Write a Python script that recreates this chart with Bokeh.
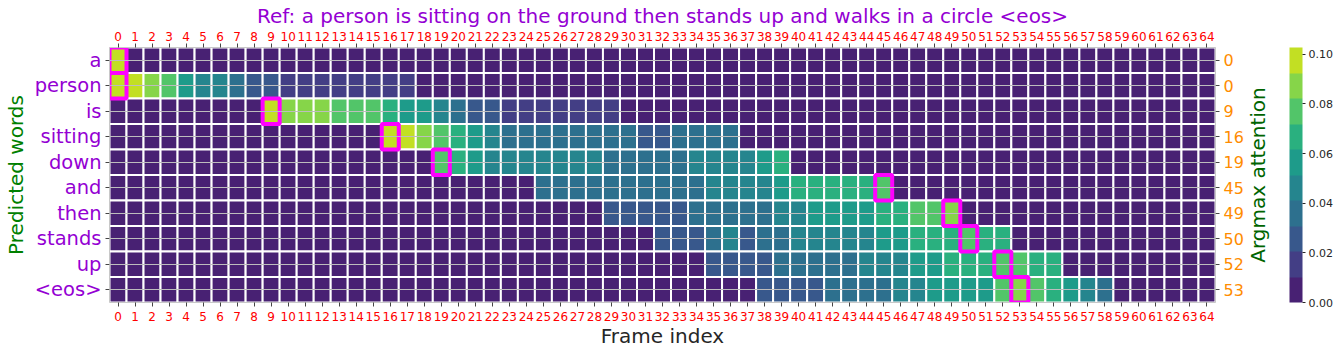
import math
from bokeh.plotting import figure
from bokeh.layouts import row
from bokeh.models import (ColumnDataSource, Range1d, LinearAxis, FixedTicker, Grid,
                          LinearColorMapper, ColorBar, PrintfTickFormatter, Label)
from bokeh.transform import transform
from bokeh.embed import file_html
from bokeh.resources import INLINE

# ---------------- data ----------------
title_text = "Ref: a person is sitting on the ground then stands up and walks in a circle <eos>"
words = ["a", "person", "is", "sitting", "down", "and", "then", "stands", "up", "<eos>"]
frames = list(range(65))
argmax_frames = [0, 0, 9, 16, 19, 45, 49, 50, 52, 53]
colorbar_ticks = [0.00, 0.02, 0.04, 0.06, 0.08, 0.10]
attn_max = 0.1027
# attention (0..9, each bin = attn_max/10)
attention_bins = [
    [9,0,0,0,0,0,0,0,0,0, 0,0,0,0,0,0,0,0,0,0, 0,0,0,0,0,0,0,0,0,0, 0,0,0,0,0,0,0,0,0,0, 0,0,0,0,0,0,0,0,0,0, 0,0,0,0,0,0,0,0,0,0, 0,0,0,0,0],
    [9,9,8,7,5,4,4,3,2,2, 1,1,1,1,1,1,1,1,0,0, 0,0,0,0,0,0,0,0,0,0, 0,0,0,0,0,0,0,0,0,0, 0,0,0,0,0,0,0,0,0,0, 0,0,0,0,0,0,0,0,0,0, 0,0,0,0,0],
    [0,0,0,0,0,0,0,0,0,9, 8,8,8,7,7,7,6,5,5,4, 3,2,2,1,1,1,1,1,1,1, 0,0,0,0,0,0,0,0,0,0, 0,0,0,0,0,0,0,0,0,0, 0,0,0,0,0,0,0,0,0,0, 0,0,0,0,0],
    [0,0,0,0,0,0,0,0,0,0, 0,0,0,0,0,0,9,9,8,7, 6,5,4,3,3,3,3,3,3,3, 3,2,2,3,3,3,3,0,0,0, 0,0,0,0,0,0,0,0,0,0, 0,0,0,0,0,0,0,0,0,0, 0,0,0,0,0],
    [0,0,0,0,0,0,0,0,0,0, 0,0,0,0,0,0,0,0,0,7, 6,5,4,4,4,4,4,4,4,3, 3,3,3,3,4,4,4,4,5,6, 0,0,0,0,0,0,0,0,0,0, 0,0,0,0,0,0,0,0,0,0, 0,0,0,0,0],
    [0,0,0,0,0,0,0,0,0,0, 0,0,0,0,0,0,0,0,0,0, 0,0,0,0,0,3,3,3,3,3, 3,3,3,3,3,4,4,4,4,5, 6,6,6,6,6,7,0,0,0,0, 0,0,0,0,0,0,0,0,0,0, 0,0,0,0,0],
    [0,0,0,0,0,0,0,0,0,0, 0,0,0,0,0,0,0,0,0,0, 0,0,0,0,0,0,0,0,0,2, 2,2,2,2,3,3,3,3,3,4, 4,5,5,5,5,6,6,7,7,8, 0,0,0,0,0,0,0,0,0,0, 0,0,0,0,0],
    [0,0,0,0,0,0,0,0,0,0, 0,0,0,0,0,0,0,0,0,0, 0,0,0,0,0,0,0,0,0,0, 0,0,2,2,2,3,4,2,3,3, 4,4,4,4,4,5,5,6,6,6, 7,6,6,0,0,0,0,0,0,0, 0,0,0,0,0],
    [0,0,0,0,0,0,0,0,0,0, 0,0,0,0,0,0,0,0,0,0, 0,0,0,0,0,0,0,0,0,0, 0,0,0,0,0,2,2,2,2,3, 3,3,3,3,4,4,4,5,5,6, 6,6,7,7,6,6,0,0,0,0, 0,0,0,0,0],
    [0,0,0,0,0,0,0,0,0,0, 0,0,0,0,0,0,0,0,0,0, 0,0,0,0,0,0,0,0,0,0, 0,0,0,0,0,0,0,0,2,2, 2,2,3,3,3,3,4,4,5,5, 5,5,7,8,7,6,5,4,3,0, 0,0,0,0,0],
]
palette = ["#482173", "#433e85", "#38588c", "#2d708e", "#25858e",
           "#1e9b8a", "#2ab07f", "#52c569", "#86d549", "#c2df23"]

# ---------------- build ----------------
xs, ys, vals = [], [], []
for r, row_bins in enumerate(attention_bins):
    for c, b in enumerate(row_bins):
        xs.append(frames[c])
        ys.append(r)
        vals.append((b + 0.5) * attn_max / 10)
cells = ColumnDataSource(dict(x=xs, y=ys, v=vals))
boxes = ColumnDataSource(dict(x=argmax_frames, y=list(range(len(words)))))

mapper = LinearColorMapper(palette=palette, low=0, high=attn_max)

FONT = "DejaVu Sans"
TOP, BOTTOM = 47, 49
p = figure(width=1246, height=351,
           x_range=Range1d(-0.5, 64.5), y_range=Range1d(len(words) - 0.5, -0.5),
           x_axis_location=None, y_axis_location=None,
           toolbar_location=None, output_backend="svg",
           min_border_left=107, min_border_right=28,
           min_border_top=TOP, min_border_bottom=BOTTOM,
           title=title_text)
p.title.align = "center"
p.title.text_color = "#9400d3"
p.title.text_font = FONT
p.title.text_font_size = "20px"
p.title.text_font_style = "normal"
p.title.standoff = 2
p.outline_line_color = None
p.background_fill_color = "white"
p.border_fill_color = "white"
p.grid.visible = False

p.rect(x="x", y="y", width=1, height=1, source=cells,
       fill_color=transform("v", mapper), line_color="white", line_width=2)

p.add_layout(Grid(dimension=1, ticker=FixedTicker(ticks=list(range(len(words)))),
                  grid_line_color="#bdbdbd", grid_line_width=1, level="overlay"))

p.rect(x="x", y="y", width=1, height=1, source=boxes,
       fill_alpha=0, line_color="#ff00ff", line_width=4)


def style(ax, color, size, standoff):
    ax.major_label_text_color = color
    ax.major_label_text_font = FONT
    ax.major_label_text_font_size = size
    ax.major_label_standoff = standoff
    ax.major_tick_out = 4
    ax.major_tick_in = 0
    ax.major_tick_line_color = "#444444"
    ax.minor_tick_line_color = None
    ax.axis_line_color = "#c8c8c8"
    ax.axis_label_text_font = FONT
    ax.axis_label_text_font_style = "normal"
    ax.axis_label_text_font_size = "20px"


xt = FixedTicker(ticks=frames)
yt = FixedTicker(ticks=list(range(len(words))))

bottom = LinearAxis(ticker=xt, axis_label="Frame index")
style(bottom, "red", "12px", 5)
bottom.axis_label_text_color = "#262626"
bottom.axis_label_standoff = 0
p.add_layout(bottom, "below")

top = LinearAxis(ticker=xt)
style(top, "red", "12px", 3)
p.add_layout(top, "above")

left = LinearAxis(ticker=yt, axis_label="Predicted words",
                  major_label_overrides={i: w for i, w in enumerate(words)})
style(left, "#9400d3", "19.5px", 4)
left.axis_label_text_color = "green"
left.axis_label_standoff = 4
p.add_layout(left, "left")

right = LinearAxis(ticker=yt,
                   major_label_overrides={i: str(a) for i, a in enumerate(argmax_frames)})
style(right, "#ff8c00", "16px", 4)
p.add_layout(right, "right")

# side strip: upward-reading "Argmax attention" title and the colour bar
side = figure(width=90, height=351, x_range=Range1d(0, 42), y_range=Range1d(0, 1),
              x_axis_location=None, y_axis_location=None,
              toolbar_location=None, output_backend="svg",
              min_border_left=1, min_border_right=47,
              min_border_top=TOP, min_border_bottom=BOTTOM)
side.outline_line_color = None
side.grid.visible = False
side.add_layout(Label(x=10, y=0.5, text="Argmax attention", angle=math.pi / 2,
                      text_align="center", text_baseline="middle",
                      text_font=FONT, text_font_size="20px", text_color="#006400"))

cb = ColorBar(color_mapper=mapper, ticker=FixedTicker(ticks=colorbar_ticks),
              formatter=PrintfTickFormatter(format="%.2f"),
              width=13, height=351 - TOP - BOTTOM, padding=0, margin=0,
              major_label_text_font=FONT, major_label_text_font_size="11px",
              major_label_text_color="#262626", label_standoff=3,
              major_tick_out=3, major_tick_in=0, major_tick_line_color="#262626",
              bar_line_color=None, border_line_color=None,
              background_fill_alpha=0)
side.add_layout(cb, "right")

layout = row(p, side, spacing=0)
open("out.html", "w").write(file_html(layout, INLINE))
